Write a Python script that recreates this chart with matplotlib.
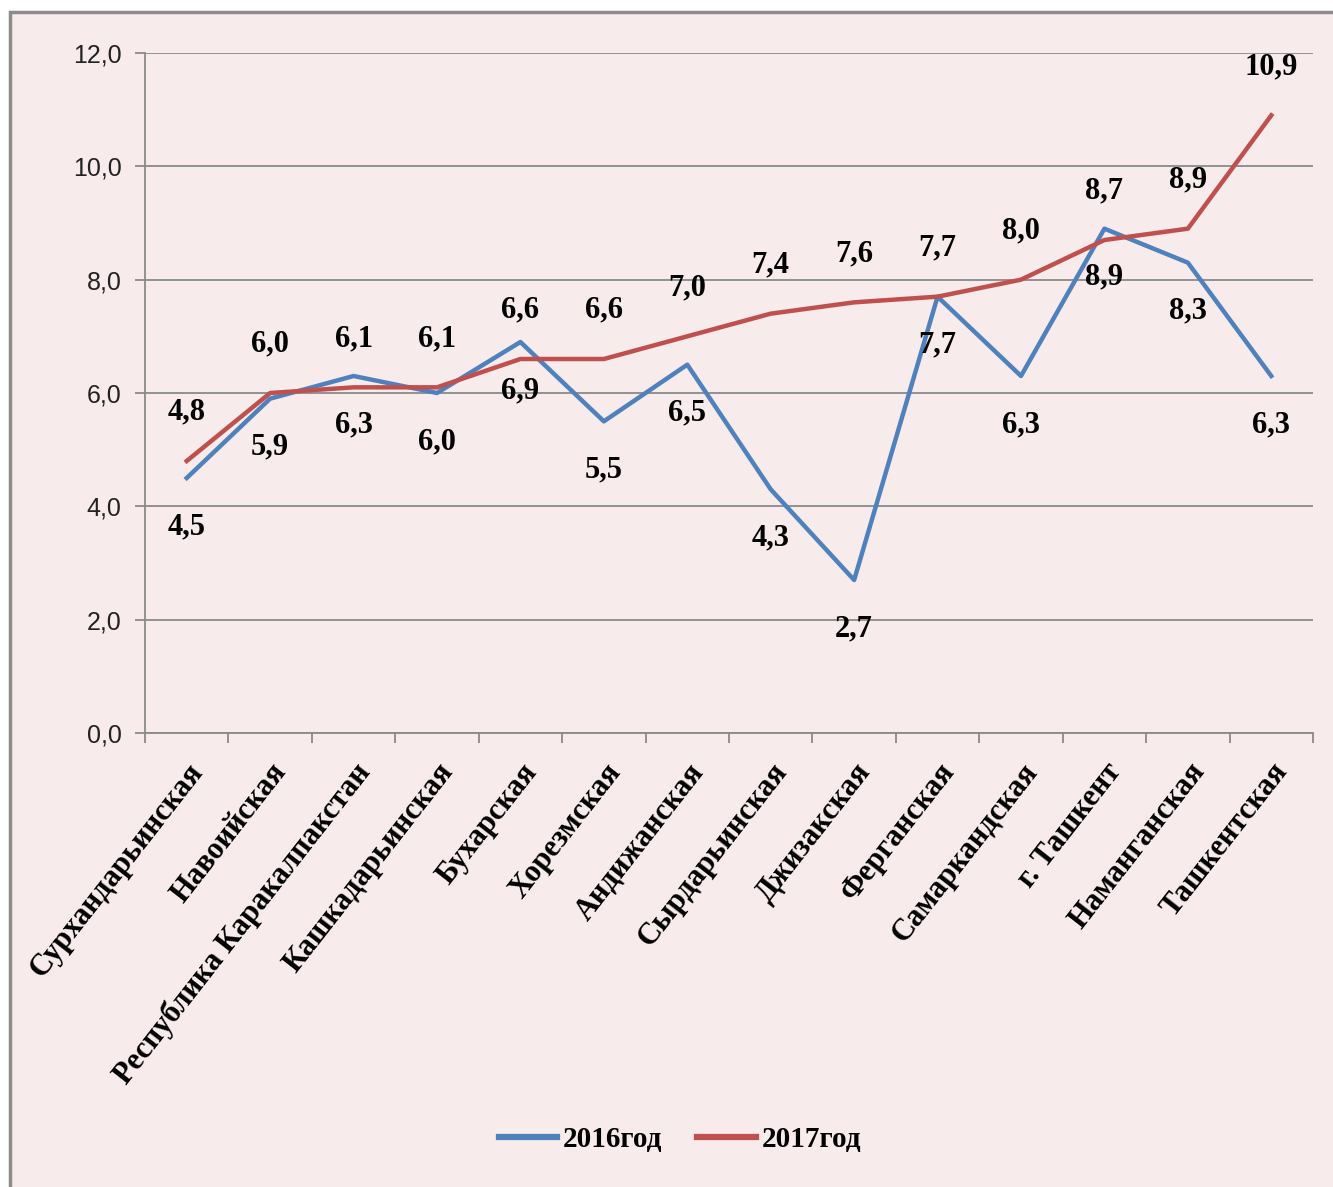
import matplotlib.pyplot as plt
from matplotlib.patches import Rectangle
from matplotlib.ticker import FuncFormatter

regions = ['Сурхандарьинская', 'Навоийская', 'Республика Каракалпакстан',
           'Кашкадарьинская', 'Бухарская', 'Хорезмская', 'Андижанская',
           'Сырдарьинская', 'Джизакская', 'Ферганская', 'Самаркандская',
           'г. Ташкент', 'Наманганская', 'Ташкентская']
y2016 = [4.5, 5.9, 6.3, 6.0, 6.9, 5.5, 6.5, 4.3, 2.7, 7.7, 6.3, 8.9, 8.3, 6.3]
y2017 = [4.8, 6.0, 6.1, 6.1, 6.6, 6.6, 7.0, 7.4, 7.6, 7.7, 8.0, 8.7, 8.9, 10.9]

bg = '#f7ebeb'
grid_col = '#8a8a8a'
blue = '#4f81bd'
red = '#c0504d'
serif = 'Liberation Serif'

fig = plt.figure(figsize=(13.33, 11.87), dpi=100)
fig.patch.set_facecolor('white')
# pink panel with grey frame (top and left edges visible)
fig.patches.append(Rectangle((10 / 1333, -0.05), 1.1, 1 - 12 / 1187 + 0.05,
                             transform=fig.transFigure, facecolor=bg,
                             edgecolor='#8c8c8c', linewidth=2.5, zorder=-10))

ax = fig.add_axes([145 / 1333, 1 - 733 / 1187, (1313 - 145) / 1333, (733 - 53) / 1187])
ax.set_facecolor(bg)
ax.set_zorder(1)

x = list(range(len(regions)))
ax.plot(x, y2016, color=blue, linewidth=3.2, label='2016год', zorder=3)
ax.plot(x, y2017, color=red, linewidth=3.2, label='2017год', zorder=4)

for xi, v in zip(x, y2017):
    ax.annotate(f'{v:.1f}'.replace('.', ','), (xi, v), xytext=(0, 35),
                textcoords='offset points', ha='center', va='center',
                fontsize=22, fontweight='bold', family=serif, zorder=5)
for xi, v in zip(x, y2016):
    ax.annotate(f'{v:.1f}'.replace('.', ','), (xi, v), xytext=(0, -35),
                textcoords='offset points', ha='center', va='center',
                fontsize=22, fontweight='bold', family=serif, zorder=5)

ax.set_xlim(-0.5, len(regions) - 0.5)
ax.set_ylim(0, 12)
ax.set_yticks([0, 2, 4, 6, 8, 10, 12])
ax.yaxis.set_major_formatter(FuncFormatter(lambda v, p: f'{v:.1f}'.replace('.', ',')))
ax.yaxis.grid(True, color=grid_col, linewidth=1.3)
ax.set_axisbelow(True)

ax.set_xticks([i - 0.5 for i in range(len(regions) + 1)])
ax.set_xticklabels([])
ax.set_xticks(x, minor=True)
ax.set_xticklabels(regions, minor=True, rotation=52, ha='right',
                   rotation_mode='anchor', fontsize=22, fontweight='bold',
                   family=serif)
ax.tick_params(axis='x', which='minor', length=0, pad=18)
ax.tick_params(axis='x', which='major', length=7, width=1.3, color=grid_col)
ax.tick_params(axis='y', length=7, width=1.3, color=grid_col, pad=10,
               labelsize=18, labelcolor='#222222')
for lbl in ax.get_yticklabels():
    lbl.set_family('Liberation Sans')

for side in ['top', 'right']:
    ax.spines[side].set_visible(False)
ax.spines['left'].set_color(grid_col)
ax.spines['bottom'].set_color(grid_col)
ax.spines['left'].set_linewidth(1.3)
ax.spines['bottom'].set_linewidth(1.3)

leg = fig.legend(loc='center', bbox_to_anchor=(0.51, 1 - 1140 / 1187), ncol=2,
                 frameon=False, handlelength=2.0, handletextpad=0.2,
                 columnspacing=1.2,
                 prop={'family': serif, 'weight': 'bold', 'size': 21})
for line in leg.get_lines():
    line.set_linewidth(4.5)

fig.savefig('out.png', dpi=100, facecolor=fig.get_facecolor())
